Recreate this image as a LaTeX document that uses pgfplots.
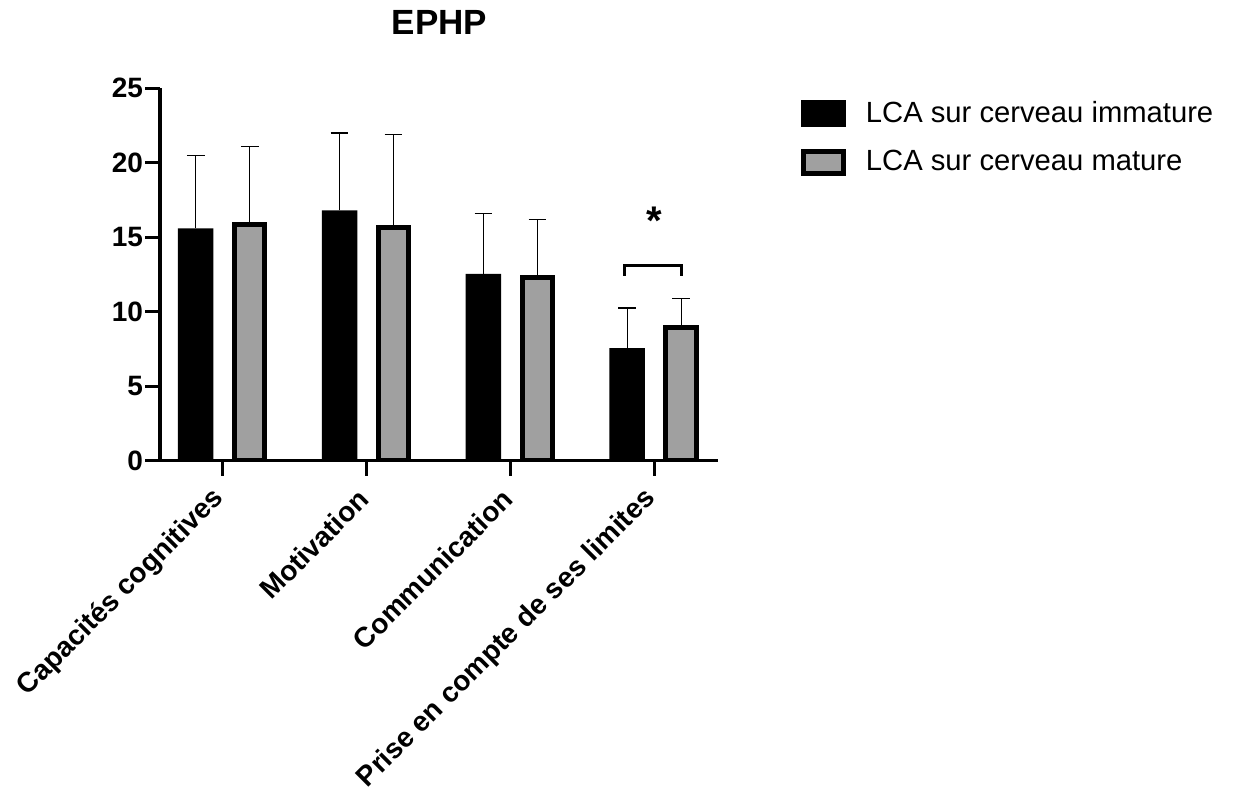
\documentclass[border=0pt]{standalone}
\usepackage{fontspec}
\setmainfont{Liberation Sans}
\usepackage{pgfplots}
\pgfplotsset{compat=1.18}
\definecolor{barg}{RGB}{160,160,160}
\begin{document}
\begin{tikzpicture}
\useasboundingbox (0,0) rectangle (617.5pt,395.5pt);
\begin{axis}[
  at={(80pt,165.15pt)}, anchor=south west,
  scale only axis, width=279pt, height=186.2pt,
  xmin=-0.436, xmax=3.444, ymin=0, ymax=25,
  axis x line*=bottom, axis y line*=left,
  axis line style={line width=1.6pt},
  axis on top,
  xtick={0,1,2,3}, ytick={0,5,10,15,20,25},
  xticklabels={Capacités cognitives, Motivation, Communication, Prise en compte de ses limites},
  tick align=outside, major tick length=7.5pt,
  tick style={line width=1.6pt, black},
  /pgf/number format/assume math mode=true,
  ticklabel style={font=\fontsize{14}{16}\selectfont\bfseries},
  yticklabel style={xshift=2.5pt},
  xticklabel style={yshift=-7pt, xshift=1pt, rotate=45, anchor=east},
  ybar,
  legend style={draw=none, fill=none, at={(axis description cs:1.148,0.977)}, anchor=north west,
    inner sep=0pt, font=\fontsize{14.6}{16}\selectfont, row sep=8.5pt,
    /tikz/every odd column/.append style={column sep=8pt}},
  legend cell align=left,
]
\addplot[fill=black, draw=none, bar width=17.75pt, bar shift=-13.5pt,
  legend image code/.code={\fill[black] (0pt,-6.75pt) rectangle (22.5pt,6.75pt);},
  error bars/.cd, y dir=plus, y explicit,
  error bar style={line width=0.65pt, black},
  error mark options={rotate=90, line width=0.65pt, mark size=4.4pt, black},
  ] coordinates {
  (0,15.6) +- (0,4.9)
  (1,16.8) +- (0,5.2)
  (2,12.55) +- (0,4.05)
  (3,7.55) +- (0,2.7)
};
\addlegendentry{LCA sur cerveau immature}
\addplot[fill=barg, draw=black, line width=2.5pt, bar width=15.25pt, bar shift=13.5pt,
  legend image code/.code={\draw[fill=barg, draw=black, line width=2.5pt] (1.25pt,-5.5pt) rectangle (21.25pt,5.5pt);},
  error bars/.cd, y dir=plus, y explicit,
  error bar style={line width=0.65pt, black},
  error mark options={rotate=90, line width=0.65pt, mark size=4.4pt, black},
  ] coordinates {
  (0,15.87) +- (0,5.2)
  (1,15.63) +- (0,6.27)
  (2,12.33) +- (0,3.87)
  (3,8.93) +- (0,1.94)
};
\addlegendentry{LCA sur cerveau mature}
\draw[line width=1.4pt] (axis cs:2.793,12.4) -- (axis cs:2.793,13.1) -- (axis cs:3.192,13.1) -- (axis cs:3.192,12.4);
\node[font=\fontsize{20}{20}\selectfont\bfseries, anchor=base, inner sep=0pt] at (axis cs:3.0,15.2) {*};
\end{axis}
\node[font=\fontsize{17.5}{20}\selectfont\bfseries] at (219.75pt,384.5pt) {EPHP};
\end{tikzpicture}
\end{document}
